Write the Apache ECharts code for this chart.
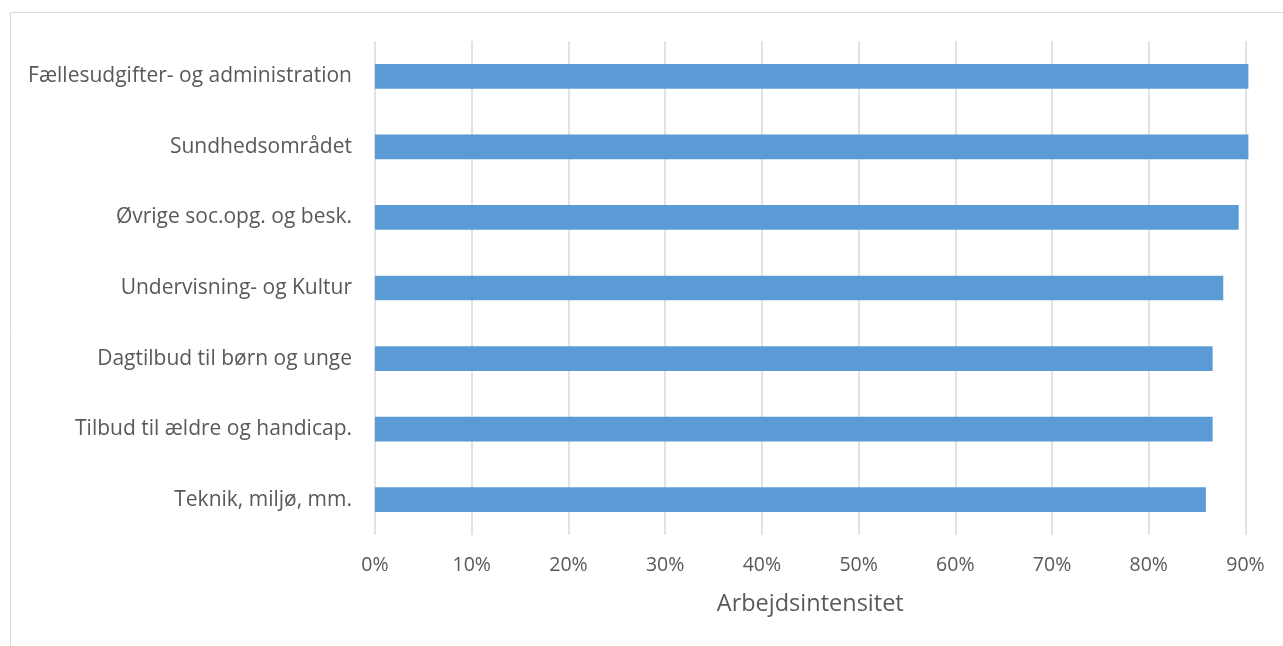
<!DOCTYPE html>
<html>
<head>
<meta charset="utf-8">
<script src="https://cdn.jsdelivr.net/npm/echarts@6/dist/echarts.min.js"></script>
<style>
html,body{margin:0;padding:0;background:#fff;}
#chart{width:1283px;height:646px;}
</style>
</head>
<body>
<div id="chart"></div>
<script>
const categories = [
  "Teknik, miljø, mm.",
  "Tilbud til ældre og handicap.",
  "Dagtilbud til børn og unge",
  "Undervisning- og Kultur",
  "Øvrige soc.opg. og besk.",
  "Sundhedsområdet",
  "Fællesudgifter- og administration"
];
const values = [0.859, 0.866, 0.866, 0.877, 0.893, 0.903, 0.903];
const xTicks = [0, 0.1, 0.2, 0.3, 0.4, 0.5, 0.6, 0.7, 0.8, 0.9];
const axisTitle = "Arbejdsintensitet";

const chart = echarts.init(document.getElementById('chart'));
const font = "'Open Sans', sans-serif";
chart.setOption({
  animation: false,
  backgroundColor: '#fff',
  graphic: [{
    type: 'rect', silent: true,
    shape: {x: 10.5, y: 12.5, width: 1290, height: 700},
    style: {fill: 'none', stroke: '#d9d9d9', lineWidth: 1}
  }],
  grid: {left: 375, right: 37.5, top: 41, bottom: 111, containLabel: false},
  xAxis: {
    type: 'value',
    min: xTicks[0], max: xTicks[xTicks.length - 1], interval: 0.1,
    name: axisTitle, nameLocation: 'middle', nameGap: 57,
    nameTextStyle: {fontFamily: font, fontSize: 23.5, color: '#595959'},
    axisLine: {show: false}, axisTick: {show: false},
    axisLabel: {
      fontFamily: font, fontSize: 19.5, color: '#595959', margin: 20,
      formatter: v => Math.round(v * 100) + '%'
    },
    splitLine: {show: true, lineStyle: {color: '#d9d9d9', width: 1.5}}
  },
  yAxis: {
    type: 'category', data: categories,
    axisLine: {show: false}, axisTick: {show: false},
    axisLabel: {fontFamily: font, fontSize: 21, color: '#595959', margin: 23}
  },
  series: [{
    type: 'bar', data: values, barWidth: '35%', clip: false,
    itemStyle: {color: '#5b9bd5'}
  }]
});
</script>
</body>
</html>
